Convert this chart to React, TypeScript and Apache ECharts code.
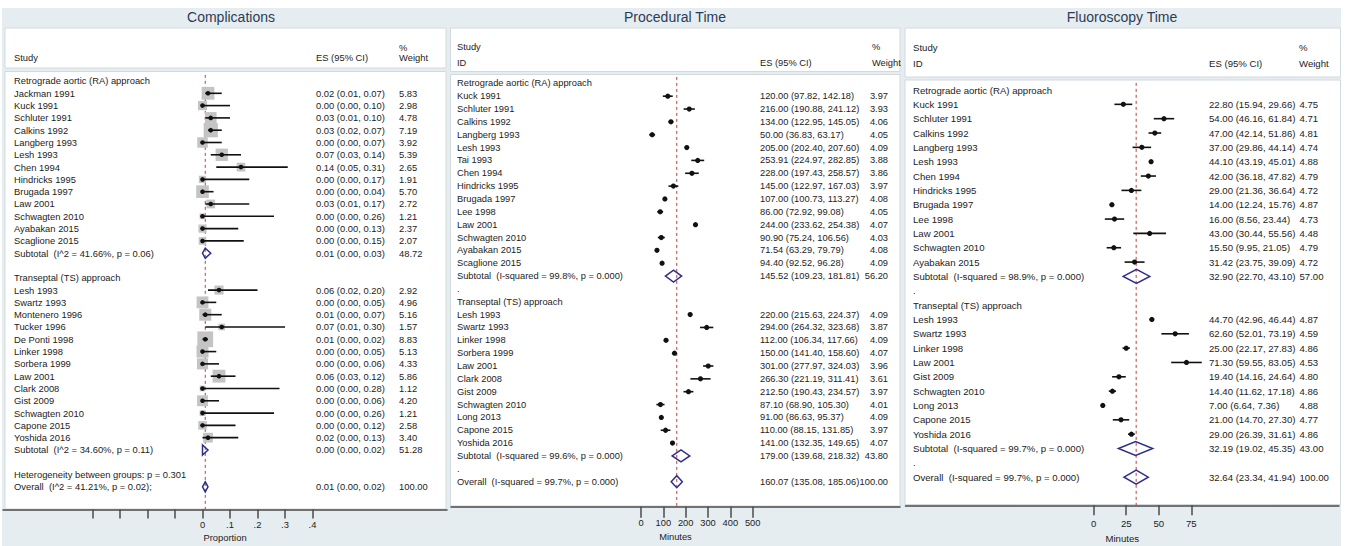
import { useEffect, useRef } from "react";
import * as echarts from "echarts";

// ---------------- Data: Complications ----------------
const compRaNames = ["Jackman 1991", "Kuck 1991", "Schluter 1991", "Calkins 1992", "Langberg 1993", "Lesh 1993", "Chen 1994", "Hindricks 1995", "Brugada 1997", "Law 2001", "Schwagten 2010", "Ayabakan 2015", "Scaglione 2015"];
const compRaES = [0.02, 0.0, 0.03, 0.03, 0.0, 0.07, 0.14, 0.0, 0.0, 0.03, 0.0, 0.0, 0.0];
const compRaLo = [0.01, 0.0, 0.01, 0.02, 0.0, 0.03, 0.05, 0.0, 0.0, 0.01, 0.0, 0.0, 0.0];
const compRaHi = [0.07, 0.1, 0.1, 0.07, 0.07, 0.14, 0.31, 0.17, 0.04, 0.17, 0.26, 0.13, 0.15];
const compRaW = [5.83, 2.98, 4.78, 7.19, 3.92, 5.39, 2.65, 1.91, 5.7, 2.72, 1.21, 2.37, 2.07];
const compRaSub = [0.01, 0.0, 0.03, 48.72];
const compRaSubLabel = "Subtotal  (I^2 = 41.66%, p = 0.06)";
const compTsNames = ["Lesh 1993", "Swartz 1993", "Montenero 1996", "Tucker 1996", "De Ponti 1998", "Linker 1998", "Sorbera 1999", "Law 2001", "Clark 2008", "Gist 2009", "Schwagten 2010", "Capone 2015", "Yoshida 2016"];
const compTsES = [0.06, 0.0, 0.01, 0.07, 0.01, 0.0, 0.0, 0.06, 0.0, 0.0, 0.0, 0.0, 0.02];
const compTsLo = [0.02, 0.0, 0.0, 0.01, 0.0, 0.0, 0.0, 0.03, 0.0, 0.0, 0.0, 0.0, 0.0];
const compTsHi = [0.2, 0.05, 0.07, 0.3, 0.02, 0.05, 0.06, 0.12, 0.28, 0.06, 0.26, 0.12, 0.13];
const compTsW = [2.92, 4.96, 5.16, 1.57, 8.83, 5.13, 4.33, 5.86, 1.12, 4.2, 1.21, 2.58, 3.4];
const compTsSub = [0.0, 0.0, 0.02, 51.28];
const compTsSubLabel = "Subtotal  (I^2 = 34.60%, p = 0.11)";
const compHet = "Heterogeneity between groups: p = 0.301";
const compOverall = [0.01, 0.0, 0.02, 100.0];
const compOverallLabel = "Overall  (I^2 = 41.21%, p = 0.02);";
const compTicks = [-0.4, -0.3, -0.2, -0.1, 0, 0.1, 0.2, 0.3, 0.4];
const compLabels = [0, 0.1, 0.2, 0.3, 0.4];

// ---------------- Data: Procedural Time ----------------
const procRaNames = ["Kuck 1991", "Schluter 1991", "Calkins 1992", "Langberg 1993", "Lesh 1993", "Tai 1993", "Chen 1994", "Hindricks 1995", "Brugada 1997", "Lee 1998", "Law 2001", "Schwagten 2010", "Ayabakan 2015", "Scaglione 2015"];
const procRaES = [120.0, 216.0, 134.0, 50.0, 205.0, 253.91, 228.0, 145.0, 107.0, 86.0, 244.0, 90.9, 71.54, 94.4];
const procRaLo = [97.82, 190.88, 122.95, 36.83, 202.4, 224.97, 197.43, 122.97, 100.73, 72.92, 233.62, 75.24, 63.29, 92.52];
const procRaHi = [142.18, 241.12, 145.05, 63.17, 207.6, 282.85, 258.57, 167.03, 113.27, 99.08, 254.38, 106.56, 79.79, 96.28];
const procRaW = [3.97, 3.93, 4.06, 4.05, 4.09, 3.88, 3.86, 3.97, 4.08, 4.05, 4.07, 4.03, 4.08, 4.09];
const procRaSub = [145.52, 109.23, 181.81, 56.2];
const procRaSubLabel = "Subtotal  (I-squared = 99.8%, p = 0.000)";
const procTsNames = ["Lesh 1993", "Swartz 1993", "Linker 1998", "Sorbera 1999", "Law 2001", "Clark 2008", "Gist 2009", "Schwagten 2010", "Long 2013", "Capone 2015", "Yoshida 2016"];
const procTsES = [220.0, 294.0, 112.0, 150.0, 301.0, 266.3, 212.5, 87.1, 91.0, 110.0, 141.0];
const procTsLo = [215.63, 264.32, 106.34, 141.4, 277.97, 221.19, 190.43, 68.9, 86.63, 88.15, 132.35];
const procTsHi = [224.37, 323.68, 117.66, 158.6, 324.03, 311.41, 234.57, 105.3, 95.37, 131.85, 149.65];
const procTsW = [4.09, 3.87, 4.09, 4.07, 3.96, 3.61, 3.97, 4.01, 4.09, 3.97, 4.07];
const procTsSub = [179.0, 139.68, 218.32, 43.8];
const procTsSubLabel = "Subtotal  (I-squared = 99.6%, p = 0.000)";
const procOverall = [160.07, 135.08, 185.06, 100.0];
const procOverallLabel = "Overall  (I-squared = 99.7%, p = 0.000)";
const procTicks = [0, 100, 200, 300, 400, 500];

// ---------------- Data: Fluoroscopy Time ----------------
const fluoRaNames = ["Kuck 1991", "Schluter 1991", "Calkins 1992", "Langberg 1993", "Lesh 1993", "Chen 1994", "Hindricks 1995", "Brugada 1997", "Lee 1998", "Law 2001", "Schwagten 2010", "Ayabakan 2015"];
const fluoRaES = [22.8, 54.0, 47.0, 37.0, 44.1, 42.0, 29.0, 14.0, 16.0, 43.0, 15.5, 31.42];
const fluoRaLo = [15.94, 46.16, 42.14, 29.86, 43.19, 36.18, 21.36, 12.24, 8.56, 30.44, 9.95, 23.75];
const fluoRaHi = [29.66, 61.84, 51.86, 44.14, 45.01, 47.82, 36.64, 15.76, 23.44, 55.56, 21.05, 39.09];
const fluoRaW = [4.75, 4.71, 4.81, 4.74, 4.88, 4.79, 4.72, 4.87, 4.73, 4.48, 4.79, 4.72];
const fluoRaSub = [32.9, 22.7, 43.1, 57.0];
const fluoRaSubLabel = "Subtotal  (I-squared = 98.9%, p = 0.000)";
const fluoTsNames = ["Lesh 1993", "Swartz 1993", "Linker 1998", "Law 2001", "Gist 2009", "Schwagten 2010", "Long 2013", "Capone 2015", "Yoshida 2016"];
const fluoTsES = [44.7, 62.6, 25.0, 71.3, 19.4, 14.4, 7.0, 21.0, 29.0];
const fluoTsLo = [42.96, 52.01, 22.17, 59.55, 14.16, 11.62, 6.64, 14.7, 26.39];
const fluoTsHi = [46.44, 73.19, 27.83, 83.05, 24.64, 17.18, 7.36, 27.3, 31.61];
const fluoTsW = [4.87, 4.59, 4.86, 4.53, 4.8, 4.86, 4.88, 4.77, 4.86];
const fluoTsSub = [32.19, 19.02, 45.35, 43.0];
const fluoTsSubLabel = "Subtotal  (I-squared = 99.7%, p = 0.000)";
const fluoOverall = [32.64, 23.34, 41.94, 100.0];
const fluoOverallLabel = "Overall  (I-squared = 99.7%, p = 0.000)";
const fluoTicks = [0, 25, 50, 75];

const raHeader = "Retrograde aortic (RA) approach";
const tsHeader = "Transeptal (TS) approach";

// ---------------- Row building ----------------
type Row = { kind: string; label: string; es?: number; lo?: number; hi?: number; w?: number };

function groupRows(header: string, names: string[], es: number[], lo: number[], hi: number[], w: number[], subLabel: string, sub: number[]): Row[] {
  const rows: Row[] = [{ kind: "header", label: header }];
  names.forEach((n, i) => rows.push({ kind: "study", label: n, es: es[i], lo: lo[i], hi: hi[i], w: w[i] }));
  rows.push({ kind: "sub", label: subLabel, es: sub[0], lo: sub[1], hi: sub[2], w: sub[3] });
  return rows;
}

const compRows: Row[] = [
  ...groupRows(raHeader, compRaNames, compRaES, compRaLo, compRaHi, compRaW, compRaSubLabel, compRaSub),
  { kind: "blank", label: "" },
  ...groupRows(tsHeader, compTsNames, compTsES, compTsLo, compTsHi, compTsW, compTsSubLabel, compTsSub),
  { kind: "blank", label: "" },
  { kind: "het", label: compHet },
  { kind: "sub", label: compOverallLabel, es: compOverall[0], lo: compOverall[1], hi: compOverall[2], w: compOverall[3] },
];
const procRows: Row[] = [
  ...groupRows(raHeader, procRaNames, procRaES, procRaLo, procRaHi, procRaW, procRaSubLabel, procRaSub),
  { kind: "blank", label: "." },
  ...groupRows(tsHeader, procTsNames, procTsES, procTsLo, procTsHi, procTsW, procTsSubLabel, procTsSub),
  { kind: "blank", label: "." },
  { kind: "sub", label: procOverallLabel, es: procOverall[0], lo: procOverall[1], hi: procOverall[2], w: procOverall[3] },
];
const fluoRows: Row[] = [
  ...groupRows(raHeader, fluoRaNames, fluoRaES, fluoRaLo, fluoRaHi, fluoRaW, fluoRaSubLabel, fluoRaSub),
  { kind: "blank", label: "." },
  ...groupRows(tsHeader, fluoTsNames, fluoTsES, fluoTsLo, fluoTsHi, fluoTsW, fluoTsSubLabel, fluoTsSub),
  { kind: "blank", label: "." },
  { kind: "sub", label: fluoOverallLabel, es: fluoOverall[0], lo: fluoOverall[1], hi: fluoOverall[2], w: fluoOverall[3] },
];

// ---------------- Layout ----------------
const FONT = '"Liberation Sans", Arial, Helvetica, sans-serif';
const TEXT = "#1c1c1c";
const BG = "#e6edf1";
const BORDER = "#d2dade";

const panels = [
  {
    title: "Complications", titleX: 231, rows: compRows, overall: compOverall[0],
    left: 3, width: 444, top: 74.85, height: 434.65, xMin: -0.7255, xMax: 0.8891, yMax: 34.84,
    ticks: compTicks, labels: compLabels, fmt: (v: number) => (v === 0 ? "0" : String(v).replace(/^0/, "")),
    axisName: "Proportion", nameGap: 23, labelMargin: 10, tickLen: 9,
    fs: 9.4, nameX: 11, esX: 313, wX: 396, wAlign: "left", box: 5.3, dot: 2.3, dia: 5,
    box1: [5, 28, 441, 40], box2: [5, 71.5, 441, 437.5],
    head: [["Study", 14, 57], ["ES (95% CI)", 316, 57], ["%", 399, 47], ["Weight", 399, 57]],
  },
  {
    title: "Procedural Time", titleX: 675, rows: procRows, overall: procOverall[0],
    left: 451, width: 449, top: 76.9, height: 429.8, xMin: -850.5, xMax: 1159.4, yMax: 32.95,
    ticks: procTicks, labels: procTicks, fmt: (v: number) => String(v),
    axisName: "Minutes", nameGap: 25, labelMargin: 11.5, tickLen: 11,
    fs: 9.3, nameX: 6, esX: 309, wX: 437, wAlign: "right", box: 0, dot: 2.6, dia: 6,
    box1: [450.5, 28, 449.5, 43.5], box2: [450.5, 74.5, 449.5, 431.5],
    head: [["Study", 457, 47], ["ID", 457, 63], ["ES (95% CI)", 760, 63], ["%", 872, 47], ["Weight", 872, 63]],
  },
  {
    title: "Fluoroscopy Time", titleX: 1122, rows: fluoRows, overall: fluoOverall[0],
    left: 905.5, width: 433.5, top: 82.83, height: 422.47, xMin: -144.6, xMax: 188.5, yMax: 28.96,
    ticks: fluoTicks, labels: fluoTicks, fmt: (v: number) => String(v),
    axisName: "Minutes", nameGap: 26, labelMargin: 13, tickLen: 10,
    fs: 9.6, nameX: 7.5, esX: 303.5, wX: 394, wAlign: "left", box: 0, dot: 2.6, dia: 7,
    box1: [905, 28, 435.5, 49], box2: [905, 80, 435.5, 424.5],
    head: [["Study", 913, 47], ["ID", 913, 63], ["ES (95% CI)", 1209, 63], ["%", 1299, 47], ["Weight", 1299, 63]],
  },
];

function makeRender(p: any) {
  const font = `${p.fs}px ${FONT}`;
  return (params: any, api: any) => {
    const i = params.dataIndex;
    const r: Row = p.rows[i];
    const cs = params.coordSys;
    const y = api.coord([0, i])[1];
    const txt = (text: string, x: number, align = "left") => ({
      type: "text",
      style: { text, x, y, fill: TEXT, font, align, textAlign: align, verticalAlign: "middle", textVerticalAlign: "middle" },
    });
    const children: any[] = [];
    if (r.label) children.push(txt(r.label, cs.x + p.nameX));
    if (r.kind === "study" || r.kind === "sub") {
      const es = `${r.es!.toFixed(2)} (${r.lo!.toFixed(2)}, ${r.hi!.toFixed(2)})`;
      children.push(txt(es, cs.x + p.esX));
      children.push(txt(r.w!.toFixed(2), cs.x + p.wX, p.wAlign));
      const xe = api.coord([r.es, i])[0];
      const xl = api.coord([r.lo, i])[0];
      const xh = api.coord([r.hi, i])[0];
      if (r.kind === "study") {
        if (p.box > 0) {
          const s = p.box * Math.sqrt(r.w!);
          children.push({ type: "rect", shape: { x: xe - s / 2, y: y - s / 2, width: s, height: s }, style: { fill: "#c4c4c4" } });
        }
        children.push({ type: "line", shape: { x1: xl, y1: y, x2: xh, y2: y }, style: { stroke: "#111", lineWidth: 1.6 } });
        children.push({ type: "circle", shape: { cx: xe, cy: y, r: p.dot }, style: { fill: "#111" } });
      } else {
        children.push({
          type: "polygon",
          shape: { points: [[xl, y], [xe, y - p.dia], [xh, y], [xe, y + p.dia]] },
          style: { stroke: "#2f2f8a", fill: "none", lineWidth: 1.5 },
        });
      }
    }
    return { type: "group", children };
  };
}

export default function App() {
  const ref = useRef<HTMLDivElement>(null);
  useEffect(() => {
    if (!ref.current) return;
    const chart = echarts.init(ref.current, undefined, { renderer: "svg" });

    const graphics: any[] = [
      { type: "rect", z: -10, shape: { x: 2, y: 8, width: 1339, height: 538 }, style: { fill: BG } },
    ];
    panels.forEach((p) => {
      graphics.push({ type: "rect", z: -9, shape: { x: p.box1[0], y: p.box1[1], width: p.box1[2], height: p.box1[3] }, style: { fill: "#fff", stroke: BORDER, lineWidth: 1 } });
      graphics.push({ type: "rect", z: -9, shape: { x: p.box2[0], y: p.box2[1], width: p.box2[2], height: p.box2[3] }, style: { fill: "#fff", stroke: BORDER, lineWidth: 1 } });
      p.head.forEach((h: any) => {
        graphics.push({
          type: "text", z: 5,
          style: { text: h[0], x: h[1], y: h[2], fill: TEXT, font: `${p.fs}px ${FONT}`, align: "left", textAlign: "left", verticalAlign: "middle", textVerticalAlign: "middle" },
        });
      });
    });

    const option: any = {
      animation: false,
      backgroundColor: "#fff",
      title: panels.map((p) => ({
        text: p.title, left: p.titleX, top: 10, textAlign: "center", padding: 0,
        textStyle: { fontSize: 14, fontWeight: "normal", color: "#2c3b57", fontFamily: FONT },
      })),
      graphic: { elements: graphics },
      grid: panels.map((p) => ({ left: p.left, top: p.top, width: p.width, height: p.height, containLabel: false, outerBoundsMode: "none" })),
      xAxis: panels.map((p, k) => ({
        gridIndex: k, type: "value", min: p.xMin, max: p.xMax,
        axisLine: { show: true, onZero: false, lineStyle: { color: "#4a4a4a", width: 1.5 } },
        axisTick: { show: true, customValues: p.ticks, length: p.tickLen, lineStyle: { color: "#4a4a4a", width: 1.5 } },
        axisLabel: { show: true, customValues: p.labels, formatter: p.fmt, margin: p.labelMargin, fontSize: p.fs, color: TEXT, fontFamily: FONT },
        splitLine: { show: false },
        name: p.axisName, nameLocation: "middle", nameGap: p.nameGap,
        nameTextStyle: { fontSize: p.fs, color: TEXT, fontFamily: FONT },
      })),
      yAxis: panels.map((p, k) => ({ gridIndex: k, type: "value", inverse: true, min: -0.5, max: p.yMax, show: false, splitLine: { show: false } })),
      series: panels.flatMap((p, k) => [
        {
          type: "line", xAxisIndex: k, yAxisIndex: k, silent: true, z: 2, symbol: "none",
          data: [[p.overall, -0.5], [p.overall, p.yMax]],
          lineStyle: { color: "#cc3838", width: 1, type: [3, 3] },
        },
        {
          type: "custom", xAxisIndex: k, yAxisIndex: k, silent: true, z: 3, clip: false,
          data: p.rows.map((r: Row, i: number) => [r.es ?? 0, i]),
          renderItem: makeRender(p),
        },
      ]),
    };
    chart.setOption(option);
    return () => chart.dispose();
  }, []);
  return <div ref={ref} style={{ position: "fixed", left: 0, top: 0, width: 1349, height: 546 }} />;
}
